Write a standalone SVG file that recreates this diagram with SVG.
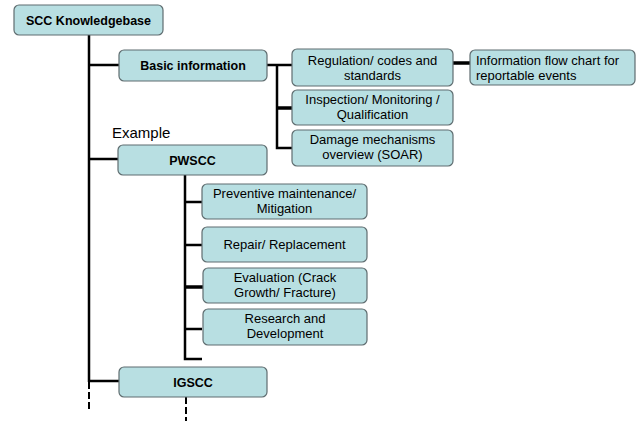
<svg xmlns="http://www.w3.org/2000/svg" width="639" height="421" viewBox="0 0 639 421">
<style>
.box{fill:#b8dfe2;stroke:#5f6d70;stroke-width:1.2}
.b{font-family:"Liberation Sans",Arial,sans-serif;font-weight:bold;font-size:12.5px;fill:#000;text-anchor:middle}
.t{font-family:"Liberation Sans",Arial,sans-serif;font-size:13px;fill:#000;text-anchor:middle}
.l{fill:none;stroke:#000;stroke-width:2.5}
.k{fill:none;stroke:#000;stroke-width:3.5}
.d{fill:none;stroke:#000;stroke-width:2;stroke-dasharray:7 3}
</style>
<rect width="639" height="421" fill="#fff"/>
<g id="connectors">
<path class="l" d="M89 35V382M89 65H119M89 159H119M89 381H119"/>
<path class="d" d="M89 382V412"/>
<path class="l" d="M267 65H277V148H292M277 65H292"/>
<path class="k" d="M277 108H292M453 63H470"/>
<path class="l" d="M185 175V359H202M185 202H202M185 245H202M185 329H202"/>
<path class="k" d="M185 287H203"/>
<path class="d" d="M186 397V421"/>
</g>
<g id="scc"><rect class="box" x="14" y="5" width="149" height="30" rx="5"/><text class="b" x="88.5" y="24.5">SCC Knowledgebase</text></g>
<g id="basic"><rect class="box" x="119" y="50" width="148" height="31" rx="5"/><text class="b" x="193" y="70">Basic information</text></g>
<g id="regulation"><rect class="box" x="292" y="49" width="161" height="37" rx="5"/><text class="t" x="372.5" y="65">Regulation/ codes and</text><text class="t" x="372.5" y="80">standards</text></g>
<g id="infoflow"><rect class="box" x="470" y="50" width="165" height="35" rx="5"/><text class="t" x="476" y="65" style="text-anchor:start">Information flow chart for</text><text class="t" x="476" y="80" style="text-anchor:start">reportable events</text></g>
<g id="inspection"><rect class="box" x="292" y="90" width="161" height="35" rx="5"/><text class="t" x="372.5" y="104">Inspection/ Monitoring /</text><text class="t" x="372.5" y="119">Qualification</text></g>
<g id="damage"><rect class="box" x="292" y="130" width="161" height="36" rx="5"/><text class="t" x="372.5" y="144">Damage mechanisms</text><text class="t" x="372.5" y="159">overview (SOAR)</text></g>
<text id="example" x="112" y="138" font-family="Liberation Sans,Arial,sans-serif" font-size="15" fill="#000">Example</text>
<g id="pwscc"><rect class="box" x="118" y="145" width="149" height="30" rx="5"/><text class="b" x="192.5" y="165">PWSCC</text></g>
<g id="preventive"><rect class="box" x="202" y="184" width="165" height="35" rx="5"/><text class="t" x="284.5" y="198">Preventive maintenance/</text><text class="t" x="284.5" y="213">Mitigation</text></g>
<g id="repair"><rect class="box" x="202" y="227" width="165" height="35" rx="5"/><text class="t" x="284.5" y="249">Repair/ Replacement</text></g>
<g id="evaluation"><rect class="box" x="203" y="268" width="164" height="35" rx="5"/><text class="t" x="285" y="282">Evaluation (Crack</text><text class="t" x="285" y="297">Growth/ Fracture)</text></g>
<g id="research"><rect class="box" x="203" y="309" width="164" height="36" rx="5"/><text class="t" x="285" y="323">Research and</text><text class="t" x="285" y="338">Development</text></g>
<g id="igscc"><rect class="box" x="119" y="367" width="148" height="30" rx="5"/><text class="b" x="193" y="386.5">IGSCC</text></g>
</svg>
